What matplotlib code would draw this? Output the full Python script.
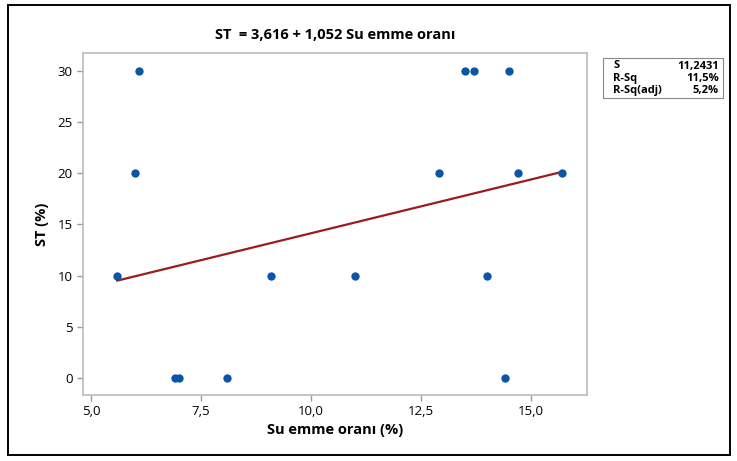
import numpy as np
import matplotlib.pyplot as plt
from matplotlib.patches import Rectangle

# data
su_emme = [5.6, 6.0, 6.1, 6.9, 7.0, 8.1, 9.1, 11.0, 14.0, 14.4,
           12.9, 13.5, 13.7, 14.5, 14.7, 15.7]
st = [10, 20, 30, 0, 0, 0, 10, 10, 10, 0,
      20, 30, 30, 30, 20, 20]
b0, b1 = 3.616, 1.052
stats_names = ["S", "R-Sq", "R-Sq(adj)"]
stats_vals = ["11,2431", "11,5%", "5,2%"]
xticks = [5.0, 7.5, 10.0, 12.5, 15.0]
yticks = [0, 5, 10, 15, 20, 25, 30]

plt.rcParams['font.family'] = ['Open Sans', 'DejaVu Sans']

fig = plt.figure(figsize=(7.37, 4.61), dpi=100)
ax = fig.add_axes([0.1126, 0.1432, 0.684, 0.742])

xfit = np.linspace(min(su_emme), max(su_emme), 50)
ax.plot(xfit, b0 + b1 * xfit, color='#9b1c1c', lw=1.6, zorder=2)
ax.scatter(su_emme, st, s=36, color='#0a56a5', zorder=3, linewidths=0)

ax.set_xlim(4.82, 16.27)
ax.set_ylim(-1.67, 31.76)
ax.set_xticks(xticks)
ax.set_xticklabels([f"{v:.1f}".replace('.', ',') for v in xticks])
ax.set_yticks(yticks)
ax.tick_params(axis='both', labelsize=9.5, color='#999999', length=4, width=1)
for sp in ax.spines.values():
    sp.set_color('#bbbbbb')
    sp.set_linewidth(1.2)

ax.set_title("ST  = 3,616 + 1,052 Su emme oranı", fontsize=10.5,
             fontweight='bold', pad=10)
ax.set_xlabel("Su emme oranı (%)", fontsize=10.5, fontweight='bold', labelpad=3)
ax.set_ylabel("ST (%)", fontsize=10.5, fontweight='bold', labelpad=6)

# stats box
bx0, by0, bw, bh = 603 / 737, 1 - 98 / 461, 120 / 737, 40 / 461
fig.patches.append(Rectangle((bx0, by0), bw, bh, transform=fig.transFigure,
                             fill=False, edgecolor='#888888', lw=0.8))
for i, (n, v) in enumerate(zip(stats_names, stats_vals)):
    yy = 1 - (66 + i * 12) / 461
    fig.text(bx0 + 10 / 737, yy, n, fontsize=8, fontweight='bold', va='center')
    fig.text(bx0 + bw - 4 / 737, yy, v, fontsize=8, fontweight='bold',
             va='center', ha='right')

# outer frame
fig.patches.append(Rectangle((8 / 737, 1 - 455 / 461), 722 / 737, 450 / 461,
                             transform=fig.transFigure, fill=False,
                             edgecolor='black', lw=1.4))

fig.savefig('out.png', dpi=100)
